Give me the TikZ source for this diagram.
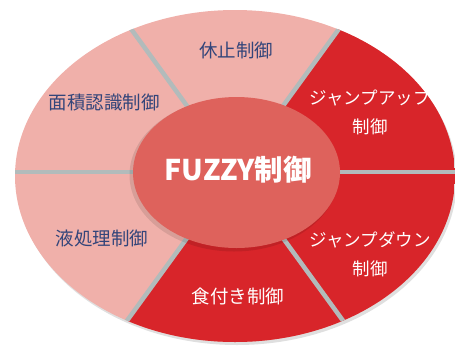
\documentclass[tikz,border=0pt]{standalone}
\usepackage{fontspec}
\setmainfont{Noto Sans CJK JP}
\usetikzlibrary{shapes.geometric}
\definecolor{pinkf}{HTML}{F0B0AA}
\definecolor{redf}{HTML}{D8252A}
\definecolor{centf}{HTML}{DE625C}
\definecolor{gapc}{HTML}{B2BBBB}
\definecolor{txtb}{HTML}{33457A}
\begin{document}
\begin{tikzpicture}[x=1pt,y=-1pt,
  lbl/.style={font=\fontsize{18.5}{20}\selectfont, text=txtb, inner sep=0},
  wlbl/.style={font=\fontsize{17.5}{29}\selectfont, text=white, align=center, inner sep=0},
  divider/.style={draw=gapc, line width=4.5pt}]
\useasboundingbox (0,0) rectangle (455,346);
\coordinate (C) at (235,172);
% outer shadow
\fill[gray!25] (237,179) ellipse [x radius=220pt, y radius=166pt];
\begin{scope}
  \clip (235,176) ellipse [x radius=220pt, y radius=166pt];
  \fill[pinkf] (0,0) rectangle (460,350);
  \fill[redf] (587.7,-313.4) -- (1200,-313.4) -- (1200,657.4) -- (-117.7,657.4) -- cycle;
  \coordinate (d1) at (411.3,-70.7);
  \coordinate (d2) at (58.7,-70.7);
  \coordinate (d3) at (-65,172);
  \coordinate (d4) at (58.7,414.7);
  \coordinate (d5) at (411.3,414.7);
  \coordinate (d6) at (535,172);
  \foreach \d in {d1,d2,d3,d4,d5,d6} \draw[divider] (C) -- (\d);
\end{scope}
% centre
\fill[black, opacity=.1] (234,175) ellipse [x radius=104.5pt, y radius=76.5pt];
\node[ellipse, fill=centf, minimum width=207pt, minimum height=151pt, inner sep=0] (fz) at (236.5,172.5) {};
\node[text=white, inner sep=0, font=\fontsize{28.5}{30}\selectfont\bfseries] (fzt) at (238,170) {FUZZY制御};
% labels
\node[lbl] (kyushi) at (236,50) {休止制御};
\node[lbl] (menseki) at (104,103) {面積認識制御};
\node[lbl] (eki) at (102,238) {液処理制御};
\node[wlbl] (jup) at (370,112) {ジャンプアップ\\制御};
\node[wlbl] (jdown) at (370,254) {ジャンプダウン\\制御};
\node[lbl, text=white] (kui) at (238,296) {食付き制御};
\end{tikzpicture}
\end{document}
